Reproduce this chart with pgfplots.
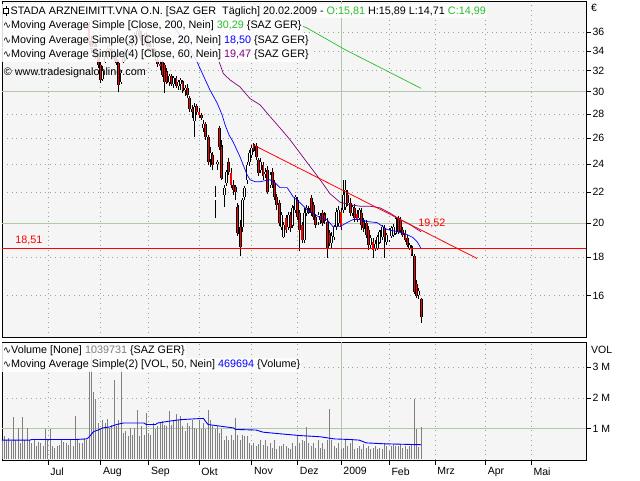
\documentclass[border=0pt]{standalone}
\usepackage{pgfplots}
\pgfplotsset{compat=1.18}
\usepackage{pgfplotstable}
\usepackage{fontspec}
\setmainfont{Liberation Sans}
\newfontfamily\djv{DejaVu Sans}
\definecolor{plotbg}{RGB}{245,245,245}
\definecolor{griddot}{RGB}{150,165,150}
\definecolor{gridsolid}{RGB}{176,200,168}
\definecolor{magreen}{RGB}{40,190,40}
\definecolor{mapurple}{RGB}{128,0,128}
\definecolor{volgray}{RGB}{128,128,128}
\newcommand{\wave}{{\djv\fontsize{9.5}{10}\selectfont ∿}}

\pgfplotstableread{
x o h l c
18 36.8 37.2 34.6 35.0
19 35.0 35.6 33.8 34.2
20 34.2 35.0 33.6 34.6
21 34.6 34.9 33.2 33.5
22 33.5 33.8 32.3 32.6
23 32.55 32.85 30.8 31.1
24 31.2 32.5 31.0 32.0
25 32.9 33.8 32.8 33.5
26 33.5 34.5 33.2 34.2
27 34.2 35.0 33.6 34.0
28 34.0 34.6 33.3 33.6
29 33.6 34.2 33.0 33.2
30 33.2 33.8 32.6 32.8
31 32.75 33.05 29.95 30.6
32 30.9 32.05 30.7 31.75
33 32.9 33.6 32.8 33.3
34 33.2 34.3 33.0 34.0
35 34.0 34.8 33.6 34.5
36 34.5 35.3 34.1 34.9
37 34.9 35.6 34.4 35.2
38 35.2 36.0 34.8 35.6
39 35.6 36.6 35.2 36.2
40 36.2 36.8 35.4 35.7
41 35.7 36.2 34.9 35.1
42 35.1 35.9 34.6 35.5
43 35.5 36.0 34.5 34.8
44 34.8 35.2 33.9 34.2
45 34.2 34.8 33.6 34.4
46 34.4 34.9 33.5 33.8
47 33.8 34.2 33.0 33.4
48 33.05 33.36 32.35 32.65
49 32.65 33.05 32.05 32.45
50 32.85 33.05 31.37 31.56
51 32.55 32.75 29.86 30.89
52 31.85 32.25 30.70 30.89
53 30.89 31.66 30.52 31.46
54 31.46 31.66 30.52 30.70
55 30.70 31.46 30.33 31.27
56 31.27 31.46 30.33 30.52
57 30.52 31.08 30.14 30.89
58 30.70 31.27 30.14 31.08
59 30.89 31.08 29.86 30.14
60 30.14 30.61 29.59 30.33
61 30.33 30.70 29.41 29.68
62 29.41 29.59 28.18 28.44
63 28.44 28.79 27.66 28.18
64 27.41 28.97 26.09 28.61
65 28.70 28.88 27.92 28.18
66 28.18 28.53 27.66 27.92
67 27.92 28.09 27.49 27.66
68 26.82 27.49 26.50 27.15
69 27.15 27.32 25.85 26.09
70 26.09 26.25 23.94 24.16
71 24.39 25.30 23.80 24.84
72 24.69 24.92 23.58 23.94
73 21.50 22.44 20.34 21.70
74 24.01 24.31 23.58 24.16
75 26.82 26.99 25.07 25.30
76 25.30 25.85 22.86 23.00
77 21.83 22.51 21.04 22.31
78 22.65 23.58 22.44 23.44
79 24.16 24.46 23.22 23.44
80 23.37 23.72 22.31 22.51
81 22.51 22.86 21.83 22.17
82 22.37 22.51 21.50 22.03
83 21.04 21.30 19.25 19.43
84 19.79 20.22 18.05 18.61
85 19.79 21.63 19.49 21.50
86 21.70 22.44 21.50 22.31
87 22.86 24.16 22.58 23.94
88 24.16 25.07 23.87 24.84
89 24.69 25.46 24.46 25.22
90 25.38 25.61 24.92 25.07
91 25.38 25.61 24.31 24.54
92 24.31 24.46 23.15 23.37
93 23.58 24.46 23.37 24.16
94 23.94 24.16 22.86 23.15
95 23.29 23.72 23.00 23.44
96 23.58 23.87 21.90 22.03
97 22.51 23.44 22.31 23.22
98 23.44 23.72 22.31 22.51
99 22.65 22.86 21.50 21.70
100 21.70 21.90 20.85 21.17
101 21.30 21.50 19.85 20.03
102 19.79 20.72 19.61 20.53
103 19.19 20.10 19.13 19.91
104 20.34 20.53 19.43 19.61
105 19.79 20.72 19.61 20.53
106 20.53 20.72 19.49 19.73
107 19.91 21.17 19.73 20.98
108 20.85 21.83 20.66 21.70
109 21.50 21.70 20.22 20.41
110 20.66 20.85 18.33 19.61
111 19.91 20.10 18.84 19.01
112 19.01 20.98 18.84 20.66
113 20.66 21.17 20.47 20.98
114 20.85 21.11 20.59 20.72
115 21.63 21.83 20.47 20.66
116 21.17 21.37 20.22 20.41
117 20.41 20.59 19.73 19.91
118 20.10 20.72 19.91 20.53
119 20.47 20.66 19.97 20.22
120 20.66 20.85 19.85 20.03
121 20.53 20.72 19.97 20.22
122 20.10 20.34 17.99 18.55
123 19.43 19.61 18.66 18.84
124 18.84 19.49 18.55 19.25
125 19.19 19.91 19.01 19.79
126 19.79 20.98 19.61 20.72
127 20.03 21.11 19.85 20.85
128 20.72 20.98 19.61 19.79
129 20.85 22.86 20.66 21.83
130 21.04 22.86 20.85 22.17
131 21.83 22.17 21.11 21.30
132 21.30 21.63 20.47 20.66
133 20.66 21.17 20.47 21.04
134 20.98 21.24 20.10 20.34
135 20.59 20.85 20.10 20.22
136 20.34 20.98 20.22 20.85
137 20.66 20.98 19.61 19.91
138 20.10 20.34 19.49 19.73
139 20.03 20.22 19.13 19.31
140 19.61 19.85 18.44 18.72
141 18.72 19.31 18.55 19.13
142 18.90 19.13 17.99 18.44
143 18.55 19.01 18.33 18.78
144 18.55 19.31 18.44 19.19
145 18.90 19.61 18.78 19.49
146 19.19 19.91 19.01 19.79
147 19.73 19.91 17.99 19.19
148 18.90 19.43 18.72 19.31
149 19.01 19.73 18.90 19.61
150 19.25 19.85 19.13 19.73
151 19.31 19.97 19.19 19.79
152 19.43 20.41 19.31 20.28
153 20.34 20.41 19.37 19.49
154 20.22 20.41 19.49 19.61
155 19.61 19.79 19.19 19.31
156 19.43 19.61 18.90 19.01
157 19.13 19.31 18.61 18.72
158 18.55 18.84 18.44 18.72
159 18.55 18.72 18.05 18.16
160 18.05 18.16 16.06 16.20
161 16.56 16.81 15.86 15.96
162 16.01 16.40 15.81 16.25
163 15.81 15.89 14.71 14.99
}\candles

\pgfplotstableread{
x v
-20 0.64
-19 0.75
-18 0.64
-17 0.70
-16 0.59
-15 1.38
-14 0.64
-13 1.02
-12 0.53
-11 1.37
-10 0.64
-9 1.02
-8 0.64
-7 0.53
-6 0.64
-5 0.42
-4 0.55
-3 0.51
-2 0.42
-1 0.99
0 0.64
1 0.99
2 0.42
3 0.37
4 0.42
5 0.45
6 0.64
7 0.55
8 0.53
9 0.45
10 0.64
11 0.42
12 1.40
13 0.64
14 0.53
15 0.51
16 0.70
17 0.64
18 2.90
19 3.75
20 2.20
21 1.95
22 1.18
23 0.97
24 1.29
25 1.18
26 1.32
27 1.02
28 1.13
29 2.60
30 1.08
31 1.29
32 3.14
33 0.86
34 0.91
35 0.75
36 1.02
37 0.80
38 1.02
39 1.60
40 0.75
41 1.08
42 0.80
43 1.51
44 0.86
45 0.80
46 1.18
47 0.97
48 1.08
49 1.18
50 1.24
51 1.13
52 1.08
53 1.57
54 1.13
55 1.24
56 1.46
57 1.29
58 1.40
59 1.08
60 0.91
61 1.18
62 1.08
63 1.29
64 1.02
65 0.97
66 1.29
67 0.97
68 1.18
69 1.00
70 1.60
71 1.29
72 1.08
73 0.97
74 1.08
75 0.86
76 0.97
77 0.64
78 0.75
79 0.64
80 0.80
81 0.64
82 1.33
83 0.80
84 0.64
85 0.80
86 0.75
87 0.75
88 0.53
89 0.42
90 0.53
91 0.42
92 0.48
93 0.64
94 0.45
95 0.64
96 0.42
97 0.53
98 0.37
99 0.64
100 0.32
101 0.42
102 0.42
103 0.48
104 0.42
105 0.37
106 0.32
107 0.53
108 0.42
109 0.80
110 0.53
111 0.64
112 0.60
113 1.05
114 0.53
115 0.42
116 0.53
117 0.37
118 0.64
119 0.37
120 0.53
121 0.32
122 0.64
123 1.65
124 0.64
125 0.42
126 0.37
127 0.53
128 0.32
129 0.37
130 0.64
131 0.42
132 0.53
133 0.64
134 0.32
135 0.37
136 0.42
137 0.32
138 0.48
139 0.37
140 0.42
141 0.32
142 0.37
143 0.42
144 0.32
145 0.37
146 0.32
147 0.53
148 0.42
149 0.26
150 0.42
151 0.48
152 0.42
153 0.42
154 0.48
155 0.37
156 0.42
157 0.32
158 0.42
159 0.50
160 1.95
161 0.97
162 0.40
163 1.04
}\volume

\pgfplotsset{
  chartbase/.style={
    scale only axis, width=584pt,
    xmin=-20, xmax=235,
    axis background/.style={fill=plotbg},
    axis line style={black, line width=0.8pt},
    tick style={black, line width=0.6pt},
    major tick length=5pt,
    tick align=outside,
    ytick pos=right, yticklabel pos=right,
    xmajorgrids, ymajorgrids,
    grid style={griddot, line width=0.6pt, dash pattern=on 0.8pt off 4pt},
    extra x ticks={128}, extra x tick labels={},
    extra x tick style={grid style={solid, gridsolid, line width=0.8pt}},
    tick label style={font=\fontsize{10.5}{12}\selectfont},
    yticklabel style={anchor=west, xshift=-2pt},
  },
  lny/.style={y filter/.expression={ln(y)}},
}

\begin{document}
\begin{tikzpicture}
\useasboundingbox (0,0) rectangle (640pt,480pt);
% ---------- price panel (log price scale) ----------
\begin{axis}[chartbase, name=P,
  at={(2pt,142.7pt)}, anchor=south west, height=335.8pt,
  ymin=2.64404, ymax=3.67832,
  ytick={2.77259,2.89037,2.99573,3.09104,3.17805,3.25810,3.33220,3.40120,3.46574,3.52636,3.58352},
  yticklabels={16,18,20,22,24,26,28,30,32,34,36},
  extra y ticks={2.99573,3.40120}, extra y tick labels={},
  extra y tick style={grid style={solid, gridsolid, line width=0.8pt}},
  xtick={0,23,44,66,89,109,149,169,191,211}, xticklabels={},
  xtick style={draw=none},
]
\node[anchor=west, font=\fontsize{10.8}{12}\selectfont, inner sep=0pt] at (rel axis cs:0.003,0.7865) {© www.tradesignalonline.com};
% wicks
\addplot[draw=none, mark=none, forget plot, error bars/.cd, y dir=both, y explicit, error mark=none,
  error bar style={draw=black, line width=0.9pt}]
  table[x=x, y expr={ln(\thisrow{l})}, y error plus expr={ln(\thisrow{h})-ln(\thisrow{l})}, y error minus expr=0] {\candles};
% body outlines
\addplot[draw=none, mark=none, forget plot, error bars/.cd, y dir=both, y explicit, error mark=-,
  error mark options={black, line width=0.7pt, mark size=1.4pt},
  error bar style={draw=black, line width=2.8pt}]
  table[x=x, y expr={ln(\thisrow{o})}, y error plus expr={max(ln(\thisrow{c})-ln(\thisrow{o}),0)}, y error minus expr={max(ln(\thisrow{o})-ln(\thisrow{c}),0)}] {\candles};
% red bodies
\addplot[draw=none, mark=none, forget plot, restrict expr to domain={\thisrow{o}-\thisrow{c}}{0:1000},
  error bars/.cd, y dir=both, y explicit, error mark=none,
  error bar style={draw=red, line width=1.1pt}]
  table[x=x, y expr={ln(\thisrow{o})}, y error plus expr=0, y error minus expr={ln(\thisrow{o})-ln(\thisrow{c})}] {\candles};
% white bodies
\addplot[draw=none, mark=none, forget plot, restrict expr to domain={\thisrow{c}-\thisrow{o}}{0.0001:1000},
  error bars/.cd, y dir=both, y explicit, error mark=none,
  error bar style={draw=white, line width=1.1pt}]
  table[x=x, y expr={ln(\thisrow{o})}, y error plus expr={ln(\thisrow{c})-ln(\thisrow{o})}, y error minus expr=0] {\candles};
% MA 20 (blue)
\addplot[blue, line width=0.7pt, lny] coordinates {
(53.4,37.39) (55.5,36.48) (59.0,35.15) (62.1,34.08) (65.2,32.85) (67.8,31.56) (70.8,30.14)
(73.9,28.97) (76.1,27.92) (77.4,27.07) (79.1,26.25) (80.9,25.69) (83.9,24.54) (87.0,23.22)
(88.3,22.86) (90.5,22.72) (92.7,22.72) (94.8,22.79) (97.0,22.86) (99.2,22.65) (101.4,22.31)
(104.5,22.31) (107.1,21.70) (110.1,21.30) (113.2,20.85) (116.7,20.53) (118.9,20.34)
(121.9,20.22) (124.5,19.79) (127.6,19.79) (130.6,20.03) (133.3,20.22) (136.3,20.22)
(139.4,20.10) (143.8,20.03) (148.1,19.61) (152.5,19.49) (156.8,19.31) (159.5,19.13)
(161.2,18.90) (163,18.50)};
% MA 60 (purple)
\addplot[mapurple, line width=0.7pt, lny] coordinates {
(67.8,38.31) (70.8,36.03) (73.8,33.56) (76.6,31.72) (79.6,31.08) (83.9,30.43) (88.3,29.35)
(92.7,28.79) (97.0,27.78) (102.1,26.66) (105.8,25.85) (110.1,24.82) (114.5,23.82)
(118.9,22.86) (123.2,21.90) (127.6,21.33) (131.9,21.17) (136.3,21.07) (140.7,21.07)
(145.1,20.96) (149.4,20.63) (153.8,20.22) (158.2,19.91) (163,19.47)};
% MA 200 (green)
\addplot[magreen, line width=0.7pt, lny] coordinates {
(90,39.3) (97,38.19) (113.2,36.48) (130,34.1) (146,32.2) (163,30.29)};
% support and trend lines
\addplot[red, line width=1.1pt, lny] coordinates {(-20,18.51) (235,18.51)};
\addplot[red, line width=0.8pt, lny] coordinates {(89.6,25.46) (187.4,17.94)};
\node[anchor=west, text=red, font=\fontsize{10.8}{12}\selectfont, inner sep=0pt] at (axis cs:-14.3,2.94181) {18,51};
\node[anchor=west, text=red, font=\fontsize{10.8}{12}\selectfont, inner sep=0pt] at (axis cs:161.7,2.99423) {19,52};
\end{axis}

% ---------- volume panel ----------
\begin{axis}[chartbase, name=V,
  at={(2pt,20pt)}, anchor=south west, height=118pt,
  ymin=-0.03, ymax=3.83,
  ytick={1,2,3}, yticklabels={1 M,2 M,3 M},
  extra y ticks={1}, extra y tick labels={},
  extra y tick style={grid style={solid, gridsolid, line width=0.8pt}},
  xtick={0,23,44,66,89,109,128,149,169,191,211},
  xticklabels={Jul,Aug,Sep,Okt,Nov,Dez,2009,Feb,Mrz,Apr,Mai},
  xtick pos=bottom,
  xticklabel style={anchor=north west, xshift=-1pt, yshift=1pt},
]
\addplot[ycomb, volgray, line width=0.9pt] table[x=x, y=v] {\volume};
\addplot[blue, line width=0.9pt] coordinates {
(-20,0.62) (-8,0.62) (-7,0.64) (12,0.64) (17,0.66) (18,0.72) (20,0.90) (22,0.95) (24,1.02)
(27,1.05) (30,1.13) (33,1.18) (42,1.18) (43,1.13) (47,1.13) (48,1.18) (53,1.24) (58,1.29)
(65,1.32) (68,1.33) (69,1.22) (70,1.13) (75,1.08) (81,1.02) (82,0.97) (91,0.95) (94,0.88)
(101,0.83) (110,0.77) (119,0.73) (125,0.66) (132,0.64) (136,0.62) (139,0.53) (147,0.50)
(163,0.47)};
\end{axis}

% ---------- legends and labels ----------
\begin{scope}[every node/.style={anchor=west, font=\fontsize{10.8}{12}\selectfont, inner sep=1pt,
   fill=white, fill opacity=0.85, text opacity=1, minimum height=14.5pt}]
\node at ([xshift=0pt, yshift=-9.5pt]P.north west)
  {\tikz[baseline=-0.6ex]{\draw[line width=0.6pt] (0,-5pt)--(0,5pt); \draw[fill=white, line width=0.6pt] (-2.5pt,-2.5pt) rectangle (2.5pt,3pt);}\,STADA ARZNEIMITT.VNA O.N. [SAZ GER\ \ Täglich] 20.02.2009 - \textcolor{magreen}{O:15,81} H:15,89 L:14,71 \textcolor{magreen}{C:14,99}};
\node at ([yshift=-24.2pt]P.north west) {\wave Moving Average Simple [Close, 200, Nein] \textcolor{magreen}{30,29} \{SAZ GER\}};
\node at ([yshift=-39pt]P.north west) {\wave Moving Average Simple(3) [Close, 20, Nein] \textcolor{blue}{18,50} \{SAZ GER\}};
\node at ([yshift=-53pt]P.north west) {\wave Moving Average Simple(4) [Close, 60, Nein] \textcolor{mapurple}{19,47} \{SAZ GER\}};
\node at ([yshift=-8.7pt]V.north west) {\wave Volume [None] \textcolor{volgray}{1039731} \{SAZ GER\}};
\node at ([yshift=-23pt]V.north west) {\wave Moving Average Simple(2) [VOL, 50, Nein] \textcolor{blue}{469694} \{Volume\}};
\end{scope}
\node[anchor=west, font=\fontsize{10.5}{12}\selectfont, inner sep=0pt] at ([xshift=5pt, yshift=-6.5pt]P.north east) {€};
\node[anchor=west, font=\fontsize{10.5}{12}\selectfont, inner sep=0pt] at ([xshift=5pt, yshift=-8pt]V.north east) {VOL};
\end{tikzpicture}
\end{document}
